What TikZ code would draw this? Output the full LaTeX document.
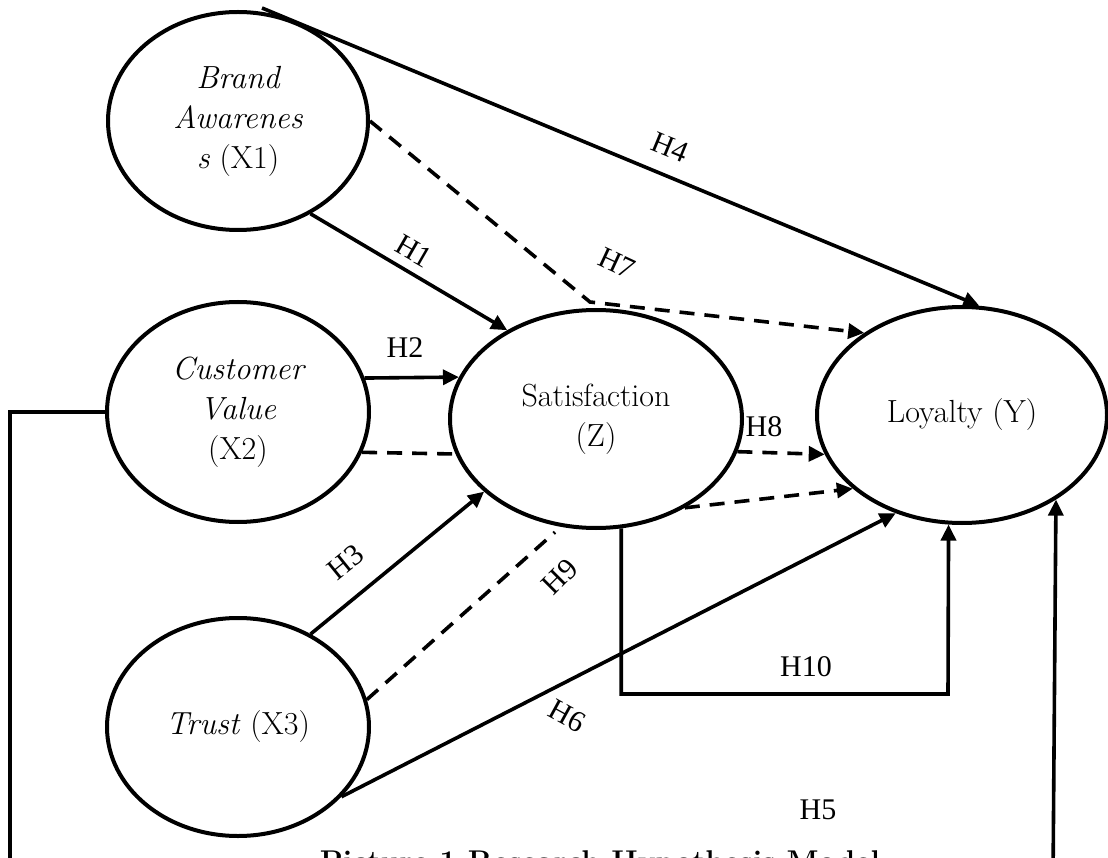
\documentclass[tikz,border=0pt]{standalone}
\usepackage{fontspec}
\newfontfamily\hfont{Liberation Serif}
\usetikzlibrary{shapes.geometric,arrows.meta}
\begin{document}
\begin{tikzpicture}[x=1pt,y=-1pt,
  latent/.style={ellipse,draw,line width=4pt,inner sep=0pt,align=center,
    font=\fontsize{32}{40}\selectfont},
  conn/.style={line width=3.6pt},
  arr/.style={conn,-{Triangle[length=16pt,width=15pt]}},
  dsh/.style={conn,dash pattern=on 15pt off 10pt},
  darr/.style={dsh,-{Triangle[length=16pt,width=15pt]}},
  hyp/.style={font=\hfont\fontsize{30}{30}\selectfont,inner sep=0pt}]
\fill[white] (0,0) rectangle (1108,858);
\useasboundingbox (0,0) rectangle (1108,858);

% constructs
\node[latent,minimum width=260pt,minimum height=218pt] (x1) at (238,121)
  {\itshape Brand\\ \itshape Awarenes\\ \textit{s} (X1)};
\node[latent,minimum width=262pt,minimum height=220pt] (x2) at (238,412)
  {\itshape Customer\\ \itshape Value\\ (X2)};
\node[latent,minimum width=262pt,minimum height=218pt] (x3) at (238,727)
  {\textit{Trust} (X3)};
\node[latent,minimum width=292pt,minimum height=218pt] (z) at (596,419)
  {Satisfaction\\ (Z)};
\node[latent,minimum width=290pt,minimum height=216pt] (y) at (962,415)
  {Loyalty (Y)};

% helper coordinates
\coordinate (h4s) at (262,8);
\coordinate (h7m) at (590,302);
\coordinate (h10b) at (948,694);
\coordinate (h5a) at (10,880);
\coordinate (h5b) at (1053,880);

% connectors
\draw[arr] (h4s) -- (y.81);
\draw[arr] (x1.-52) -- (z.135);
\draw[darr] (x1.east) -- (h7m) -- (y.140);
\draw[arr] (x2.15.26) -- (z.163.1);
\draw[dsh] (x2.-18.15) -- (z.-166.66);
\draw[darr] (z.-13.34) -- (y.-164.8);
\draw[darr] (z.-45.9) -- (y.-146.4);
\draw[arr] (x3.52.6) -- (z.-147.1);
\draw[dsh,shorten >=8pt] (x3.12.9) -- (z.-108);
\draw[arr] (x3.-34.9) -- (y.-124.9);
\draw[arr] (z.-77.93) |- (h10b) -- (y.-97.4);
\draw[arr] (x2.west) -| (h5a) -- (h5b) -- (y.-42.7);

% hypothesis labels
\node[hyp,rotate=-30] (l1) at (414,251) {H1};
\node[hyp] (l2) at (405,348) {H2};
\node[hyp,rotate=39] (l3) at (346,562) {H3};
\node[hyp,rotate=-22.5] (l4) at (670,147) {H4};
\node[hyp] (l5) at (818,810) {H5};
\node[hyp,rotate=-28.8] (l6) at (567,716) {H6};
\node[hyp,rotate=-25] (l7) at (617,263) {H7};
\node[hyp] (l8) at (764,427) {H8};
\node[hyp,rotate=45] (l9) at (560,577) {H9};
\node[hyp] (l10) at (806,667) {H10};

% caption (cut off at the bottom edge)
\node[anchor=base,inner sep=0pt,font=\bfseries\fontsize{30}{30}\selectfont] (cap)
  at (600,871) {Picture 1 Research Hypothesis Model};
\end{tikzpicture}
\end{document}
